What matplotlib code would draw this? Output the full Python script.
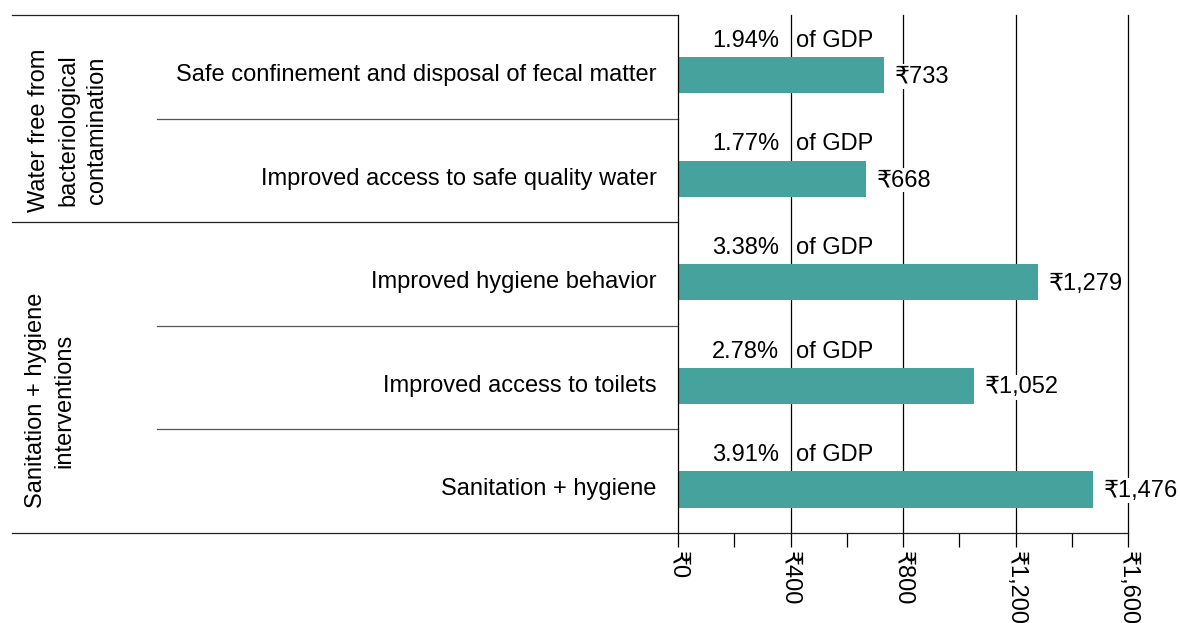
import numpy as np
import matplotlib.pyplot as plt

plt.rcParams['font.family'] = ['Liberation Sans', 'DejaVu Sans']

# Datos
categorias = ['Safe confinement and disposal of fecal matter',
              'Improved access to safe quality water',
              'Improved hygiene behavior',
              'Improved access to toilets',
              'Sanitation + hygiene']
valores = [733, 668, 1279, 1052, 1476]
pct_gdp = ['1.94%', '1.77%', '3.38%', '2.78%', '3.91%']
etiquetas_valor = ['₹733', '₹668', '₹1,279', '₹1,052', '₹1,476']
grupos = ['Water free from\nbacteriological\ncontamination',
          'Sanitation + hygiene\ninterventions']
grupo_filas = [(0, 2), (2, 5)]
ticks = [0, 400, 800, 1200, 1600]
tick_labels = ['₹0', '₹400', '₹800', '₹1,200', '₹1,600']

color_barra = '#46A29D'
fs = 17

fig = plt.figure(figsize=(11.8, 6.23), dpi=100)
ax = fig.add_axes([678 / 1180, 1 - 533 / 623, 450 / 1180, 518 / 623])

n = len(categorias)
y = np.arange(n) + 0.58
ax.barh(y, valores, height=0.35, color=color_barra, zorder=2)

ax.set_xlim(0, 1600)
ax.set_ylim(n, 0)

# lineas verticales
for t in ticks[1:]:
    ax.axvline(t, color='black', lw=0.9, zorder=1, clip_on=False)

for i in range(n):
    ax.text(-0.047, y[i], categorias[i], transform=ax.get_yaxis_transform(),
            ha='right', va='center', fontsize=fs)
    ax.annotate(pct_gdp[i], (400, i + 0.25), xytext=(-8, 0), textcoords='offset points',
                ha='right', va='center', fontsize=fs)
    ax.annotate('of GDP', (400, i + 0.25), xytext=(4, 0), textcoords='offset points',
                ha='left', va='center', fontsize=fs)
    ax.annotate(etiquetas_valor[i], (valores[i], y[i]), xytext=(8, -1), textcoords='offset points',
                ha='left', va='center', fontsize=fs, zorder=3,
                bbox=dict(facecolor='white', edgecolor='none', pad=1))

# lineas horizontales de la tabla
tr = ax.get_yaxis_transform()
ax.plot([-1.48, 0], [0, 0], transform=tr, color='#222222', lw=0.9, clip_on=False)
ax.plot([-1.48, 1], [n, n], transform=tr, color='#222222', lw=0.9, clip_on=False)
for a, b in grupo_filas:
    if a > 0:
        ax.plot([-1.48, 0], [a, a], transform=tr, color='#222222', lw=0.9, clip_on=False)
    for k in range(a + 1, b):
        ax.plot([-1.158, 0], [k, k], transform=tr, color='#555555', lw=0.9, clip_on=False)

pos_grupo = [(-1.355, 1.11), (-1.395, 3.72)]
for g, (gx, gy) in zip(grupos, pos_grupo):
    ax.text(gx, gy, g, transform=tr, rotation=90, ha='center', va='center',
            fontsize=fs, multialignment='center', linespacing=1.4)

for s in ['top', 'right', 'bottom']:
    ax.spines[s].set_visible(False)
ax.spines['left'].set_linewidth(0.9)
ax.set_yticks([])

ax.set_xticks(ticks)
ax.set_xticklabels(tick_labels, rotation=270, fontsize=fs, va='top', ha='center')
ax.set_xticks([200, 600, 1000, 1400], minor=True)
ax.tick_params(axis='x', which='both', direction='out', length=10, width=0.9, pad=3)

plt.savefig('out.png', dpi=100)
